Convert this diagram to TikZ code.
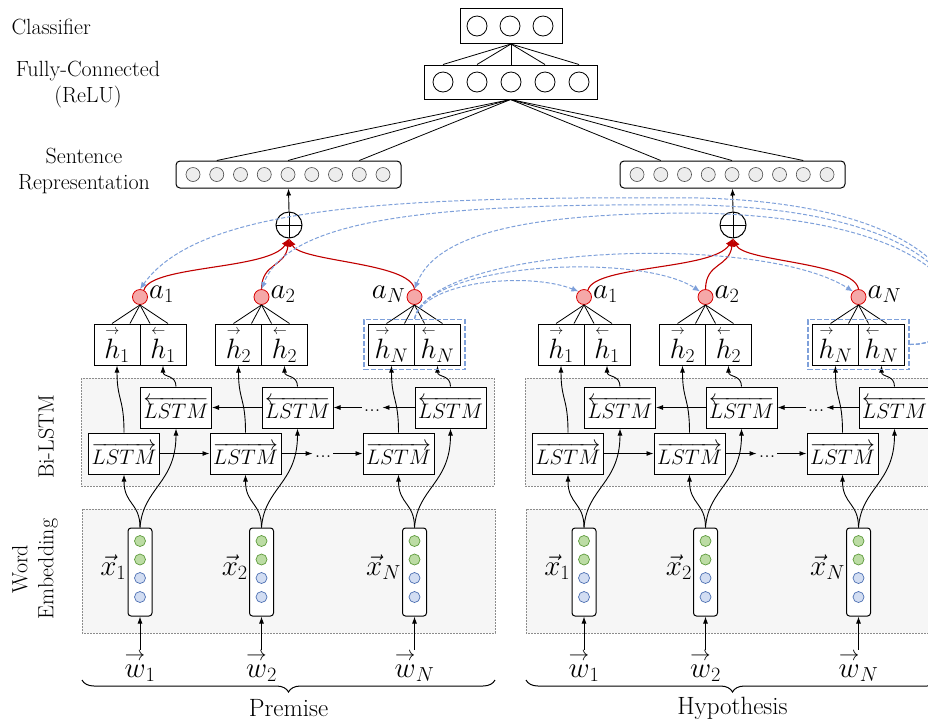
\documentclass[tikz,border=0pt]{standalone}
\usepackage{fix-cm}
\usepackage{amsmath}
\usepackage{tikz}
\usetikzlibrary{arrows.meta, shapes, fit, decorations.pathreplacing}

\newcommand{\fwd}[1]{\overset{\scriptscriptstyle\rightarrow}{#1}}
\newcommand{\bwd}[1]{\overset{\scriptscriptstyle\leftarrow}{#1}}
\newcommand{\wordvec}[1]{\overset{\scriptstyle\rightarrow}{#1}}

\definecolor{attred}{HTML}{C00000}
\definecolor{attfill}{HTML}{F5A8A8}
\definecolor{alnblue}{HTML}{7EA0DA}
\definecolor{embgreen}{HTML}{BCDCA4}
\definecolor{embgreenline}{HTML}{5E9B3C}
\definecolor{embblue}{HTML}{D2DDF2}
\definecolor{embblueline}{HTML}{4D70B3}
\definecolor{layerbg}{HTML}{F6F6F6}

\tikzset{
  box/.style={draw, fill=white, line width=1pt, inner sep=0pt},
  fcunit/.style={circle, draw, line width=0.8pt, minimum size=20pt, inner sep=0pt},
  repunit/.style={circle, draw=black!70, fill=black!7, line width=0.6pt, minimum size=14pt, inner sep=0pt},
  lstm/.style={box, minimum width=71pt, minimum height=41pt, font=\fontsize{21}{24}\selectfont},
  half/.style={box, minimum width=46pt, minimum height=41pt, font=\fontsize{28}{30}\selectfont},
  attn/.style={circle, draw=red!85!black, fill=attfill, line width=0.8pt, minimum size=15pt, inner sep=0pt},
  emb/.style={draw, fill=white, rounded corners=3pt, line width=1pt, minimum width=24pt, minimum height=88pt, inner sep=0pt},
  gdot/.style={circle, draw=embgreenline, fill=embgreen, line width=0.7pt, minimum size=11pt, inner sep=0pt},
  bdot/.style={circle, draw=embblueline, fill=embblue, line width=0.7pt, minimum size=11pt, inner sep=0pt},
  mathlab/.style={inner sep=1pt, font=\fontsize{29}{32}\selectfont},
  bglayer/.style={draw=black!45, fill=layerbg, line width=0.6pt, dash pattern=on 2pt off 1pt},
  oplus/.style={circle, draw, line width=1pt, minimum size=26pt, inner sep=0pt,
    path picture={\draw[line width=1pt] (path picture bounding box.north) -- (path picture bounding box.south)
      (path picture bounding box.west) -- (path picture bounding box.east);}},
  dots/.style={inner sep=2pt, text height=8pt, text depth=0pt},
  thinline/.style={line width=0.8pt},
  arr/.style={-{Latex[length=7pt,width=5pt]}, line width=0.9pt},
  redarr/.style={-{Latex[length=8pt,width=7pt]}, draw=attred, line width=1.1pt},
  alnarr/.style={-{Latex[length=7pt,width=6pt]}, draw=alnblue, dash pattern=on 4pt off 2pt, line width=1pt},
}

\begin{document}
\begin{tikzpicture}[x=1pt, y=-1pt, font=\fontsize{22}{26}\selectfont]
\useasboundingbox (0,0) rectangle (928,724);
\clip (0,0) rectangle (928,724);

% captions on the left
\node[anchor=west] (tcls) at (8,27) {Classifier};
\node[align=center] (tfc) at (88,85) {Fully-Connected\\(ReLU)};
\node[align=center] (trep) at (84,171) {Sentence\\Representation};
\node[rotate=90] (tlstm) at (46,437) {Bi-LSTM};
\node[rotate=90, align=center] (temb) at (35,569) {Word\\Embedding};

% classifier and fully-connected layer
\node[box, minimum width=102pt, minimum height=35pt] (cls) at (511,26) {};
\foreach \k/\x in {1/477, 2/510, 3/543}
  \node[fcunit] (cls\k) at (\x,26) {};
\node[box, minimum width=173pt, minimum height=34pt] (fc) at (510.5,82) {};
\foreach \k/\x in {1/443, 2/477, 3/511, 4/545, 5/579} {
  \node[fcunit] (fc\k) at (\x,82) {};
  \draw[thinline] (cls.south) -- (fc\k |- fc.north);
}

\foreach \s/\o/\name in {pre/0/Premise, hyp/444/Hypothesis} {
  % shaded layers
  \draw[bglayer] (81+\o,378) rectangle (494+\o,486);
  \draw[bglayer] (82+\o,509) rectangle (495+\o,633);

  % sentence representation
  \node[box, rounded corners=4pt, minimum width=225pt, minimum height=27pt] (\s-rep) at (288.5+\o,174.5) {};
  \foreach \k in {1,...,9}
    \node[repunit] (\s-rep-\k) at (193+\o+23.75*\k-23.75,174.5) {};
  \foreach \k in {2,5,8}
    \draw[thinline] (fc.south) -- (\s-rep-\k |- \s-rep.north);
  \node[oplus] (\s-sum) at (289+\o,225) {};
  \draw[arr] (\s-sum.north) -- (\s-rep.south);

  \foreach \i/\d in {1/140, 2/261.5, N/414.5} {
    \node[attn] (\s-a-\i) at (\d+\o,297) {};
    \node[half] (\s-hf-\i) at (\d+\o-23,344.5) {$\fwd{h}_{\i}$};
    \node[half] (\s-hb-\i) at (\d+\o+23,344.5) {$\bwd{h}_{\i}$};
    \draw[thinline] (\s-a-\i.south) -- ([xshift=-5pt]\s-hf-\i.north);
    \draw[thinline] (\s-a-\i.south) -- ([xshift=13pt]\s-hf-\i.north);
    \draw[thinline] (\s-a-\i.south) -- ([xshift=-13pt]\s-hb-\i.north);
    \draw[thinline] (\s-a-\i.south) -- ([xshift=5pt]\s-hb-\i.north);

    \node[lstm] (\s-bl-\i) at (\d+\o+36,407.5) {$\overleftarrow{LSTM}$};
    \node[lstm] (\s-fl-\i) at (\d+\o-16,453.5) {$\overrightarrow{LSTM}$};

    % word embedding vector
    \node[emb] (\s-x-\i) at (\d+\o,572) {};
    \node[gdot] (\s-x-\i-c1) at (\d+\o,541) {};
    \node[gdot] (\s-x-\i-c2) at (\d+\o,559.5) {};
    \node[bdot] (\s-x-\i-c3) at (\d+\o,578) {};
    \node[bdot] (\s-x-\i-c4) at (\d+\o,597) {};
    \node[mathlab, anchor=east] (\s-xl-\i) at ([yshift=5pt]\s-x-\i.west) {$\vec{x}_{\i}$};
    \node[mathlab, inner sep=0pt] (\s-w-\i) at (\d+\o,666) {$\wordvec{w}_{\i}$};

    \draw[arr] (\s-w-\i.north) -- (\s-x-\i.south);
    \draw[arr] (\s-x-\i.north) .. controls +(0,-25) and +(0,30) .. (\s-fl-\i.south);
    \draw[arr] (\s-x-\i.north) .. controls +(3,-40) and +(0,55) .. (\s-bl-\i.south);
    \draw[arr] (\s-fl-\i.north) .. controls +(0,-35) and +(0,35) .. (\s-hf-\i.south);
    \draw[arr] (\s-bl-\i.north) .. controls +(0,-12) and +(0,12) .. (\s-hb-\i.south);
  }
  \node[mathlab, anchor=west] (\s-al-1) at ([yshift=3pt]\s-a-1.east) {$a_1$};
  \node[mathlab, anchor=west] (\s-al-2) at ([yshift=3pt]\s-a-2.east) {$a_2$};

  % recurrent links
  \node[dots] (\s-dotf) at (323+\o,453.5) {...};
  \node[dots] (\s-dotb) at (372+\o,407.5) {...};
  \draw[arr] (\s-fl-1.east) -- (\s-fl-2.west);
  \draw[arr] (\s-fl-2.east) -- (\s-dotf.west);
  \draw[arr] (\s-dotf.east) -- (\s-fl-N.west);
  \draw[arr] (\s-bl-N.west) -- (\s-dotb.east);
  \draw[arr] (\s-dotb.west) -- (\s-bl-2.east);
  \draw[arr] (\s-bl-2.west) -- (\s-bl-1.east);

  % attention weights
  \draw[redarr] (\s-a-1.60) .. controls (150+\o,265) and (270+\o,270) .. (\s-sum.south);
  \draw[redarr] (\s-a-2.north) .. controls (262+\o,262) and (285+\o,268) .. (\s-sum.south);
  \draw[redarr] (\s-a-N.north) .. controls (410+\o,262) and (300+\o,262) .. (\s-sum.south);

  \node[fit=(\s-hf-N)(\s-hb-N), inner sep=4pt, draw=alnblue, dash pattern=on 5pt off 2pt, line width=1.6pt] (\s-dash) {};

  \draw[decorate, decoration={brace, amplitude=12pt}, line width=1pt] (495+\o,680) -- (82+\o,680);
  \node[font=\fontsize{25}{28}\selectfont] (\s-name) at (288.5+\o,708) {\name};
}
\node[mathlab, anchor=east] (pre-al-N) at ([yshift=3pt]pre-a-N.west) {$a_N$};
\node[mathlab, anchor=west] (hyp-al-N) at ([yshift=3pt]hyp-a-N.east) {$a_N$};

% alignment between the two sentences
\draw[alnarr] (pre-dash.north) .. controls (425,280) and (530,272) .. (hyp-a-1.north west);
\draw[alnarr] (pre-dash.north) .. controls (425,262) and (640,252) .. (hyp-a-2.north west);
\draw[alnarr] (pre-dash.north) .. controls (430,245) and (760,232) .. (hyp-a-N.north west);
\draw[alnarr] (hyp-dash.east) .. controls (990,345) and (990,205) .. (700,198) .. controls (400,196) and (200,205) .. (pre-a-1.north);
\draw[alnarr] (hyp-dash.east) .. controls (990,345) and (990,212) .. (700,205) .. controls (450,203) and (290,215) .. (pre-a-2.north);
\draw[alnarr] (hyp-dash.east) .. controls (990,345) and (990,220) .. (700,213) .. controls (560,213) and (440,225) .. (pre-a-N.north);
\end{tikzpicture}
\end{document}
